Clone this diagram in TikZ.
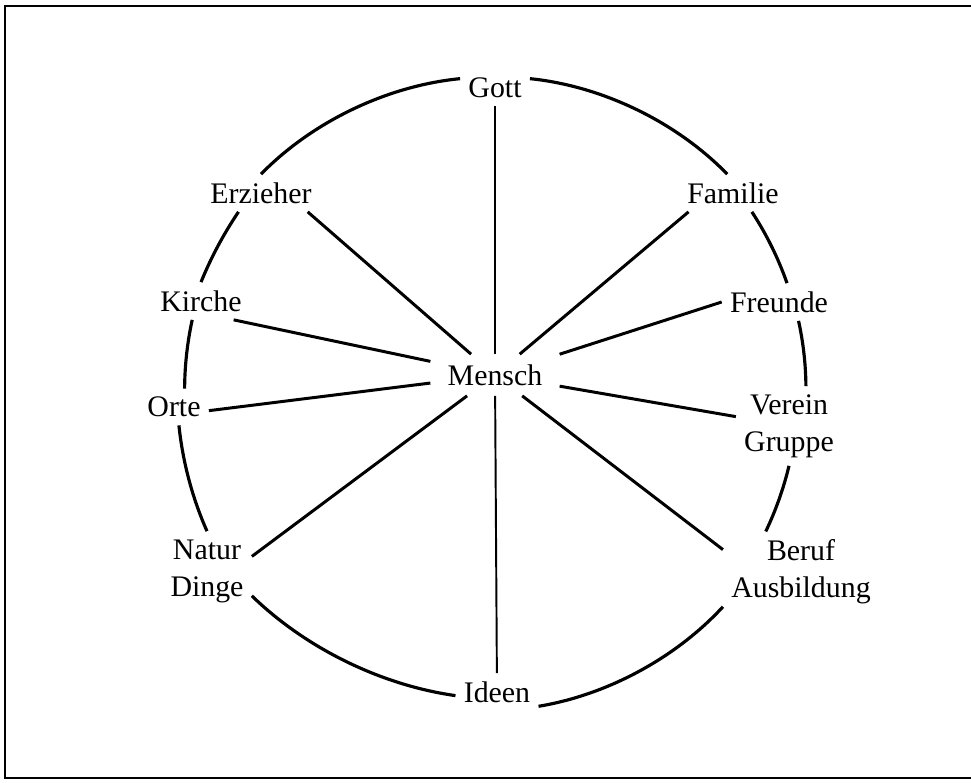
\documentclass[tikz,border=0pt]{standalone}
\usepackage{fontspec}
\setmainfont{Liberation Serif}
\tikzset{
  lab/.style={inner sep=0.16cm,align=center,font=\fontsize{17}{21}\selectfont},
  hub/.style={lab,inner xsep=0.34cm,inner ysep=0.2cm},
  spoke/.style={line width=1.7pt},
  vline/.style={line width=1.1pt},
  ring/.style={line width=1.8pt,looseness=0.85}
}
\begin{document}
\begin{tikzpicture}[x=0.02cm,y=0.02cm]
\useasboundingbox (0,0) rectangle (971,782);
% frame, open on the right
\draw[line width=1.3pt] (971,776) -- (5,776) -- (5,4) -- (971,4);
% the centre and the labels round it
\node[hub] (mensch) at (495,407) {Mensch};
\node[lab] (gott)    at (495,694) {Gott};
\node[lab] (erz)     at (261,589) {Erzieher};
\node[lab] (kirche)  at (201,481) {Kirche};
\node[lab] (orte)    at (174,375) {Orte};
\node[lab] (natur)   at (207,211) {Natur\\Dinge};
\node[lab] (ideen)   at (497,90)  {Ideen};
\node[lab] (beruf)   at (801,210) {Beruf\\Ausbildung};
\node[lab] (verein)  at (789,356) {Verein\\Gruppe};
\node[lab] (freunde) at (779,480) {Freunde};
\node[lab] (familie) at (733,589) {Familie};
% spokes
\draw[vline] (mensch) -- (gott);
\draw[vline] (mensch) -- (ideen);
\draw[spoke] (mensch) -- (erz.338);
\draw[spoke] (mensch) -- (kirche.330);
\draw[spoke] (mensch) -- (orte.354);
\draw[spoke] (mensch) -- (natur.18);
\draw[spoke] (mensch) -- (beruf.164);
\draw[spoke] (mensch) -- (verein.170);
\draw[spoke] (mensch) -- (freunde.west);
\draw[spoke] (mensch) -- (familie.203);
% the ring, counter-clockwise from the top
\draw[ring] (gott.165)    to[bend right=20]  (erz.north);
\draw[ring] (erz.220)     to[bend right=6]   (kirche.north);
\draw[ring] (kirche.245)  to[bend right=6]   (orte.60);
\draw[ring] (orte.285)    to[bend right=9]   (natur.north);
\draw[ring] (natur.331)   to[bend right=18]  (ideen.185);
\draw[ring] (ideen.341)   to[bend right=19]  (beruf.204);
\draw[ring] (beruf.131)   to[bend right=6]   (verein.south);
\draw[ring] (verein.67)   to[bend right=6]   (freunde.316);
\draw[ring] (freunde.67)  to[bend right=7]   (familie.315);
\draw[ring] (familie.107) to[bend right=20]  (gott.15);
\end{tikzpicture}
\end{document}
